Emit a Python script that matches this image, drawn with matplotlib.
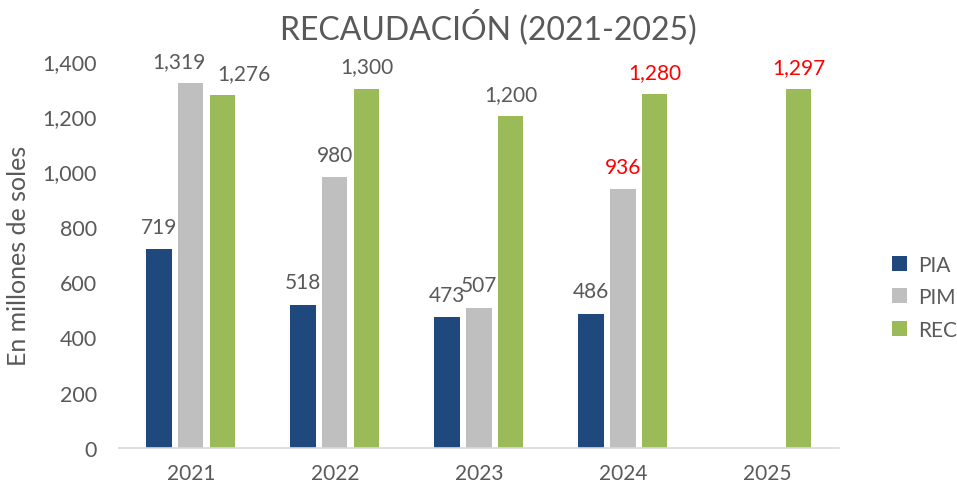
import matplotlib.pyplot as plt
import numpy as np

years = ["2021", "2022", "2023", "2024", "2025"]
pia = [719, 518, 473, 486, np.nan]
pim = [1319, 980, 507, 936, np.nan]
rec = [1276, 1300, 1200, 1280, 1297]

# labels shown in red in the original
red_labels = {("PIM", 3), ("REC", 3), ("REC", 4)}
# labels nudged sideways in the original (points)
label_shift = {("PIM", 0): -9, ("REC", 0): 15}

plt.rcParams["font.family"] = ["Lato", "DejaVu Sans"]
text_color = "#595959"

fig = plt.figure(figsize=(9.57, 4.89), dpi=100)
ax = fig.add_axes([0.1243, 0.0818, 0.7524, 0.7914])

x = np.arange(len(years))
width = 0.174
step = 0.222
series = [("PIA", pia, "#1F497D"), ("PIM", pim, "#BFBFBF"), ("REC", rec, "#9BBB59")]

for i, (name, vals, color) in enumerate(series):
    pos = x + (i - 1) * step
    ax.bar(pos, vals, width, color=color, label=name)
    for j, v in enumerate(vals):
        if np.isnan(v):
            continue
        c = "red" if (name, j) in red_labels else text_color
        dx = label_shift.get((name, j), 0)
        ax.annotate(f"{int(v):,}", (pos[j], v), xytext=(dx, 9), textcoords="offset points",
                    ha="center", va="bottom", fontsize=15, color=c, annotation_clip=False)

ax.set_xlim(-0.5, 4.5)
ax.set_ylim(0, 1400)
ax.set_yticks(range(0, 1401, 200))
ax.set_yticklabels([f"{t:,}" for t in range(0, 1401, 200)])
ax.set_xticks(x)
ax.set_xticklabels(years)
ax.tick_params(axis="both", length=0, labelsize=15.5, colors=text_color)
ax.tick_params(axis="x", pad=11, labelsize=15)
ax.tick_params(axis="y", pad=16)

for s in ["top", "right", "left"]:
    ax.spines[s].set_visible(False)
ax.spines["bottom"].set_color("#D9D9D9")
ax.spines["bottom"].set_linewidth(1.2)

ax.set_ylabel("En millones de soles", fontsize=18, color=text_color, labelpad=9)
fig.suptitle("RECAUDACIÓN (2021-2025)", fontsize=23, color=text_color, x=0.51, y=0.98)

ax.legend(loc="center left", bbox_to_anchor=(1.047, 0.39), frameon=False, fontsize=15,
          labelcolor=text_color, handlelength=0.75, handleheight=0.75, labelspacing=0.6,
          handletextpad=0.5)

fig.savefig("out.png", dpi=100)
